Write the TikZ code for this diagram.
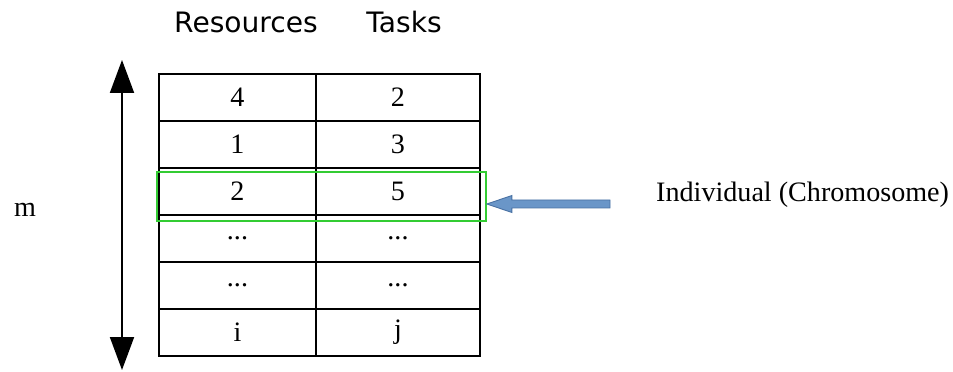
\documentclass[tikz,border=0pt]{standalone}
\usepackage{fontspec}
\setmainfont{Liberation Serif}
\newfontfamily\headfont{DejaVu Sans}
\usetikzlibrary{arrows.meta,positioning,calc}
\definecolor{chromogreen}{RGB}{51,204,51}
\definecolor{arrowblue}{RGB}{106,150,200}
\definecolor{arrowedge}{RGB}{72,112,162}

\begin{document}
\begin{tikzpicture}[node distance=0.94cm, auto,
    rescell/.style={draw, rectangle, line width=0.7pt, outer sep=0pt, minimum width=3.14cm, minimum height=0.94cm, inner sep=0pt, font=\fontsize{16}{19}\selectfont},
    taskcell/.style={rescell, minimum width=3.28cm},
    header/.style={font=\headfont\fontsize{16}{19}\selectfont},
    sidetext/.style={font=\fontsize{16}{19}\selectfont},
    chromobox/.style={draw=chromogreen, line width=1pt, rectangle, minimum width=6.58cm, minimum height=0.98cm, inner sep=0pt},
    blockarrow/.style={fill=arrowblue, draw=arrowedge, line width=0.5pt, line join=miter}]
    \useasboundingbox (0,0) rectangle (19.06,7.42);

    % headers
    \node[header] (reshead) at (4.92,6.98) {Resources};
    \node[header] (taskhead) at (8.08,6.98) {Tasks};

    % resources column
    \node[rescell] (r1) at (4.75,5.47) {4};
    \node[rescell, below of=r1] (r2) {1};
    \node[rescell, below of=r2] (r3) {2};
    \node[rescell, below of=r3] (r4) {...};
    \node[rescell, below of=r4] (r5) {...};
    \node[rescell, below of=r5] (r6) {i};

    % tasks column
    \node[taskcell, right=0cm of r1] (t1) {2};
    \node[taskcell, right=0cm of r2] (t2) {3};
    \node[taskcell, right=0cm of r3] (t3) {5};
    \node[taskcell, right=0cm of r4] (t4) {...};
    \node[taskcell, right=0cm of r5] (t5) {...};
    \node[taskcell, right=0cm of r6] (t6) {j};

    % chromosome row
    \node[chromobox] (indiv) at (6.43,3.49) {};
    \node[sidetext, anchor=west] (indivtext) at (13.0,3.52) {Individual (Chromosome)};

    \coordinate (tip) at ([yshift=-0.15cm]indiv.east);
    \coordinate (tail) at (12.2,3.34);
    \draw[blockarrow] (tip) -- ($(tip)+(0.5,0.17)$) -- ($(tip)+(0.5,0.08)$) -- ($(tail)+(0,0.08)$)
        -- ($(tail)+(0,-0.08)$) -- ($(tip)+(0.5,-0.08)$) -- ($(tip)+(0.5,-0.17)$) -- cycle;

    % m arrow
    \node[sidetext] (mlabel) at (0.50,3.22) {m};
    \coordinate (mtop) at (2.44,6.22);
    \coordinate (mbot) at (2.44,0.02);
    \draw[{Triangle[length=0.66cm,width=0.48cm]}-{Triangle[length=0.66cm,width=0.48cm]}, line width=1.1pt] (mtop) -- (mbot);
\end{tikzpicture}
\end{document}
